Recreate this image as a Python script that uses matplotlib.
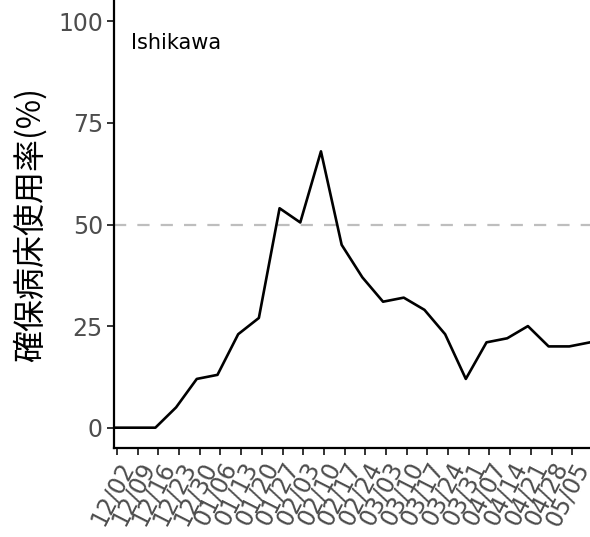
import matplotlib
matplotlib.use('Agg')
import matplotlib.pyplot as plt
import pandas as pd

plt.rcParams['font.family'] = ['DejaVu Sans', 'Noto Sans CJK JP']

# weekly bed occupancy, Ishikawa
dates = pd.date_range('2020-12-01', '2021-05-11', freq='7D')
usage = [0, 0, 0, 5, 12, 13, 23, 27, 54, 50.5, 68, 45, 37, 31, 32, 29, 23,
         12, 21, 22, 25, 20, 20, 21]
tick_dates = pd.date_range('2020-12-02', '2021-05-05', freq='7D')
tick_labels = [d.strftime('%m/%d') for d in tick_dates]
y_ticks = [0, 25, 50, 75, 100]

fig = plt.figure(figsize=(5.9, 5.37), dpi=100)
ax = fig.add_axes([114 / 590, 1 - 448 / 537, 476 / 590, 447 / 537])

ax.axhline(50, color='#bebebe', lw=1.6, dashes=(5.5, 5), zorder=1)
ax.plot(dates, usage, color='black', lw=1.9, zorder=2)

ax.set_ylim(-5, 105)
ax.set_xlim(pd.Timestamp('2020-12-01'), pd.Timestamp('2021-05-11'))
ax.set_yticks(y_ticks)
ax.set_xticks(tick_dates)
ax.set_xticklabels(tick_labels, rotation=63, ha='right', va='top',
                   rotation_mode='anchor')

for s in ['top', 'right']:
    ax.spines[s].set_visible(False)
for s in ['left', 'bottom']:
    ax.spines[s].set_linewidth(1.6)
ax.tick_params(axis='both', length=5, width=1.4, color='#333333',
               labelcolor='#4d4d4d', labelsize=17, pad=3)
ax.tick_params(axis='x', pad=2)

ax.set_ylabel('確保病床使用率(%)', fontsize=23, labelpad=8,
              family=['Noto Sans CJK JP', 'DejaVu Sans'])
ax.text(0.036, 0.906, 'Ishikawa', transform=ax.transAxes, fontsize=15,
        va='center', ha='left', color='black')

fig.savefig('out.png', dpi=100)
